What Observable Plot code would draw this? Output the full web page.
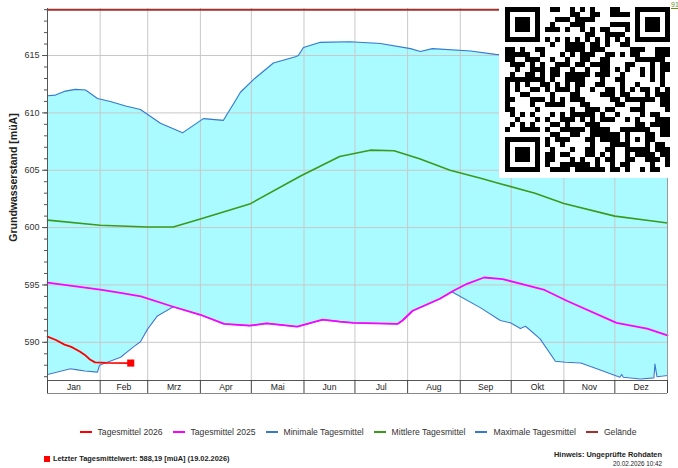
<!DOCTYPE html>
<html><head><meta charset="utf-8">
<script src="https://cdn.jsdelivr.net/npm/d3@7"></script>
<script src="https://cdn.jsdelivr.net/npm/@observablehq/plot@0.6"></script>
<style>
body{margin:0;background:#fff;font-family:"Liberation Sans",Arial,sans-serif;}
#wrap{position:relative;width:678px;height:468px;overflow:hidden;}
#legend{position:absolute;left:0;top:427px;width:640px;padding-left:38px;display:flex;justify-content:center;gap:10px;font-size:8.6px;color:#333;}
#legend span.item{display:flex;align-items:center;gap:6px;}
#legend span.sw{display:inline-block;width:12px;height:1.6px;}
.foot{position:absolute;font-size:7.4px;font-weight:bold;color:#222;white-space:nowrap;}
</style></head>
<body><div id="wrap"></div>
<script>
// ---- data ----
const monthLabels = ["Jan","Feb","Mrz","Apr","Mai","Jun","Jul","Aug","Sep","Okt","Nov","Dez"];
const monthStarts = [0,31,59,90,120,151,181,212,243,273,304,334,365];
const yTicksMajor = [590,595,600,605,610,615];

const tagesmittel2026 = [[0,590.5],[5,590.2],[10,589.8],[14,589.6],[19,589.2],[22,588.9],[25,588.5],[28,588.25],[35,588.2],[49,588.19]];
const tagesmittel2025 = [[0,595.2],[31,594.6],[43,594.3],[55,594.0],[74,593.1],[90,592.4],[104,591.6],[119,591.45],[129,591.65],[147,591.36],[162,591.97],[172,591.8],[180,591.7],[206,591.6],[209,591.9],[215,592.75],[231,593.8],[239,594.5],[247,595.1],[257,595.65],[268,595.5],[284,594.9],[292,594.6],[306,593.6],[335,591.7],[353,591.2],[365,590.6]];
const minimaleTagesmittel = [[0,587.2],[13.5,587.7],[17.7,587.6],[22,587.5],[29.4,587.4],[30.6,588.0],[32.4,588.1],[43,588.7],[50.6,589.6],[54.7,590.05],[58.9,591.15],[64.7,592.3],[74,593.1],[90,592.4],[104,591.6],[119,591.45],[129,591.65],[147,591.36],[162,591.97],[172,591.8],[180,591.7],[206,591.6],[209,591.9],[215,592.75],[231,593.8],[238,594.4],[255,593.0],[266.6,591.9],[272.5,591.7],[278.4,591.2],[281.3,591.4],[283,591.2],[290,590.3],[299,588.35],[305,588.26],[314,588.2],[325,587.6],[337,586.95],[338,587.2],[339,586.95],[349,586.8],[357,586.9],[357.6,588.1],[358.8,587.0],[365,587.1]];
const mittlereTagesmittel = [[0,600.65],[31,600.2],[59,600.05],[74,600.05],[90,600.75],[119,602.05],[149,604.5],[172,606.2],[190,606.75],[204,606.7],[219,606.0],[237,605.0],[255,604.3],[267,603.8],[287,603.0],[304,602.1],[334,601.0],[355,600.6],[365,600.4]];
const maximaleTagesmittel = [[0,611.5],[4.7,611.55],[10.6,611.9],[16.5,612.05],[22.4,612.0],[29.4,611.25],[37,611.0],[46,610.6],[54.7,610.3],[66.5,609.1],[79.5,608.26],[91.8,609.5],[103.6,609.35],[105,609.7],[110,610.9],[113.6,611.8],[122,613.0],[133,614.35],[146,614.9],[147.7,615.0],[150.7,615.7],[160.7,616.15],[178,616.2],[196,616.05],[213.7,615.6],[219.5,615.35],[226.6,615.6],[249,615.4],[263.7,615.1],[290,614.8],[320,614.3],[350,613.5],[365,613.0]];
const gelaende = [[0,619.0],[365,619.0]];
const letzterWert = [[49,588.19]];

// ---- styles ----
const C = {red:"#ff0000", mag:"#ff00ff", blue:"#3a78d0", green:"#3a9a1c", brown:"#a3302b", cyan:"#aafbff"};
const W = 678, H = 405, mt = 8, mb = 25, ml = 47, mr = 11;
const yDom = [586.67, 619.1];
const k = (H - mt - mb) / (yDom[1] - yDom[0]);
const bandTop = yDom[0], bandBot = yDom[0] - 13 / k, bandMid = yDom[0] - 6.5 / k;
const mids = monthLabels.map((m, i) => ({m, x: (monthStarts[i] + monthStarts[i+1]) / 2}));
const X = d => d[0], Y = d => d[1];

const chart = Plot.plot({
  width: W, height: H, marginTop: mt, marginBottom: mb, marginLeft: ml, marginRight: mr,
  style: {fontFamily: "Liberation Sans, Arial, sans-serif", background: "white"},
  x: {domain: [0, 365], axis: null},
  y: {domain: yDom, axis: null},
  marks: [
    Plot.areaY(maximaleTagesmittel, {x: X, y1: yDom[0], y2: Y, fill: C.cyan}),
    Plot.areaY(minimaleTagesmittel, {x: X, y1: yDom[0], y2: Y, fill: "white"}),
    Plot.ruleY(yTicksMajor, {stroke: "#c8c8c8", strokeWidth: 1}),
    Plot.ruleX(monthStarts.slice(1, -1), {y1: yDom[0], y2: yDom[1], stroke: "#c8c8c8", strokeWidth: 1}),
    Plot.line(minimaleTagesmittel, {x: X, y: Y, stroke: C.blue, strokeWidth: 1.1}),
    Plot.line(maximaleTagesmittel, {x: X, y: Y, stroke: C.blue, strokeWidth: 1.1}),
    Plot.line(mittlereTagesmittel, {x: X, y: Y, stroke: C.green, strokeWidth: 1.6}),
    Plot.line(tagesmittel2025, {x: X, y: Y, stroke: C.mag, strokeWidth: 1.8}),
    Plot.line(tagesmittel2026, {x: X, y: Y, stroke: C.red, strokeWidth: 1.8}),
    Plot.line(gelaende, {x: X, y: Y, stroke: C.brown, strokeWidth: 2}),
    Plot.dot(letzterWert, {x: X, y: Y, symbol: "square", r: 4, fill: C.red, stroke: "none"}),
    Plot.ruleX([365], {y1: yDom[0], y2: yDom[1], stroke: "#999"}),
    Plot.ruleX([0], {y1: bandBot, y2: yDom[1], stroke: "#555"}),
    Plot.axisY({ticks: d3.range(587, 620, 1), tickSize: 3, text: null, stroke: "#555"}),
    Plot.axisY({ticks: yTicksMajor, tickSize: 5, tickPadding: 3, fontSize: 9, fill: "#333", stroke: "#555"}),
    Plot.text(["Grundwasserstand [müA]"], {frameAnchor: "left", dx: -34, dy: -17, rotate: -90, textAnchor: "middle", fontSize: 10.5, fontWeight: "bold", fill: "#222"}),
    Plot.ruleY([bandTop], {x1: 0, x2: 365, stroke: "#555", strokeWidth: 1.2}),
    Plot.ruleY([bandBot], {x1: 0, x2: 365, stroke: "#888"}),
    Plot.ruleX(monthStarts, {y1: bandBot, y2: bandTop, stroke: "#444"}),
    Plot.text(mids, {x: "x", y: bandMid, text: "m", fontSize: 8.6, fill: "#222", lineAnchor: "middle"})
  ]
});
const wrap = document.getElementById("wrap");
wrap.appendChild(chart);

// QR-code image overlay (decoration, not chart data)
const qr = document.createElement("canvas");
qr.width = 172; qr.height = 178;
qr.style.cssText = "position:absolute;left:499px;top:0px;";
const g = qr.getContext("2d");
g.fillStyle = "#fff"; g.fillRect(0, 0, 172, 178);
const N = 33, ms = 5, ox = 6, oy = 7;
const isFinder = (i, j) => (i < 8 && j < 8) || (i < 8 && j >= N - 8) || (i >= N - 8 && j < 8);
g.fillStyle = "#000";
function finder(ci, cj) {
  g.fillRect(ox + cj * ms, oy + ci * ms, 7 * ms, 7 * ms);
  g.fillStyle = "#fff"; g.fillRect(ox + (cj + 1) * ms, oy + (ci + 1) * ms, 5 * ms, 5 * ms);
  g.fillStyle = "#000"; g.fillRect(ox + (cj + 2) * ms, oy + (ci + 2) * ms, 3 * ms, 3 * ms);
}
finder(0, 0); finder(0, N - 7); finder(N - 7, 0);
for (let i = 0; i < N; i++) for (let j = 0; j < N; j++) {
  if (isFinder(i, j)) continue;
  let on;
  if (i === 6) on = j % 2 === 0; else if (j === 6) on = i % 2 === 0;
  else if (i >= 24 && i <= 28 && j >= 24 && j <= 28) on = (i === 24 || i === 28 || j === 24 || j === 28 || (i === 26 && j === 26));
  else { let h = (i * 374761393 + j * 668265263) >>> 0; h = ((h ^ (h >>> 13)) * 1274126177) >>> 0; on = ((h >>> 16) & 3) < 2; }
  if (on) g.fillRect(ox + j * ms, oy + i * ms, ms, ms);
}
wrap.appendChild(qr);

const t91 = document.createElement("div");
t91.textContent = "91";
t91.style.cssText = "position:absolute;left:671px;top:1px;font-size:7px;color:#6b8e23;text-decoration:underline;";
wrap.appendChild(t91);

// legend
const legendItems = [["Tagesmittel 2026", C.red], ["Tagesmittel 2025", C.mag], ["Minimale Tagesmittel", C.blue], ["Mittlere Tagesmittel", C.green], ["Maximale Tagesmittel", C.blue], ["Gelände", C.brown]];
const lg = document.createElement("div"); lg.id = "legend";
legendItems.forEach(([t, c]) => {
  const s = document.createElement("span"); s.className = "item";
  const sw = document.createElement("span"); sw.className = "sw"; sw.style.background = c;
  const tx = document.createElement("span"); tx.textContent = t;
  s.appendChild(sw); s.appendChild(tx);
  lg.appendChild(s);
});
wrap.appendChild(lg);

const f1 = document.createElement("div"); f1.className = "foot";
f1.style.cssText = "left:44px;top:454px;display:flex;align-items:center;gap:3px;";
f1.innerHTML = `<span style="display:inline-block;width:6px;height:6px;background:${C.red}"></span><span>Letzter Tagesmittelwert: 588,19 [müA] (19.02.2026)</span>`;
wrap.appendChild(f1);
const f2 = document.createElement("div"); f2.className = "foot";
f2.style.cssText = "right:16px;top:451px;text-align:right;line-height:8.5px;";
f2.innerHTML = "Hinweis: Ungeprüfte Rohdaten<br><span style='font-weight:normal;font-size:6.3px'>20.02.2026 10:42</span>";
wrap.appendChild(f2);
</script></body></html>
